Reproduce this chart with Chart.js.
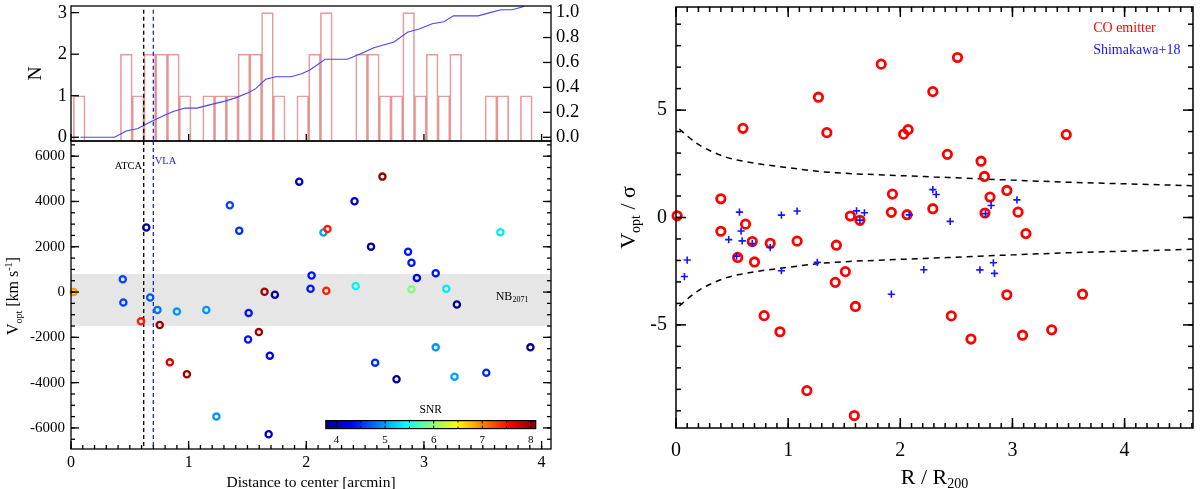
<!DOCTYPE html>
<html><head><meta charset="utf-8">
<script src="https://cdn.jsdelivr.net/npm/chart.js@4"></script>
<style>
html,body{margin:0;padding:0;background:#fff;}
#wrap{position:relative;width:1200px;height:489px;overflow:hidden;background:#fff;}
canvas{position:absolute;left:0;top:0;}
</style></head><body>
<div id="wrap">
<canvas id="c1" width="1200" height="489"></canvas>
<canvas id="c2" width="1200" height="489"></canvas>
<canvas id="c3" width="1200" height="489"></canvas>
</div>
<script>
// ================= DATA =================
// --- top-left histogram (bin centres in arcmin, counts) ---
const histBinCenters = [0.07,0.17,0.27,0.37,0.47,0.57,0.67,0.77,0.87,0.97,1.07,1.17,1.27,1.37,1.47,1.57,1.67,1.77,1.87,1.97,2.07,2.17,2.27,2.37,2.47,2.57,2.67,2.77,2.87,2.97,3.07,3.17,3.27,3.37,3.47,3.57,3.67,3.77,3.87];
const histCounts     = [1,0,0,0,2,1,2,2,2,1,0,1,1,1,2,2,3,1,0,1,2,3,0,0,2,2,1,1,3,1,2,1,2,0,0,1,1,0,1];
// cumulative fraction (right axis)
const cumDist = [0.08,0.37,0.47,0.57,0.62,0.70,0.79,0.875,0.97,1.07,1.22,1.31,1.41,1.51,1.57,1.655,1.74,1.87,1.96,2.03,2.16,2.35,2.47,2.58,2.745,2.86,2.96,3.07,3.17,3.25,3.46,3.56,3.655,3.75,3.85];
const cumFrac = [0,0,0.05,0.07,0.096,0.135,0.174,0.208,0.234,0.234,0.27,0.29,0.32,0.36,0.39,0.465,0.486,0.486,0.51,0.54,0.626,0.626,0.673,0.72,0.764,0.842,0.868,0.91,0.927,0.974,0.974,1.0,1.023,1.023,1.049];

// --- bottom-left scatter: distance [arcmin], V_opt [km/s], SNR ---
const distCenter = [0.023,0.44,0.445,0.64,0.595,0.673,0.735,0.754,0.90,1.15,1.35,1.43,1.51,1.505,1.597,1.645,1.733,1.94,2.045,2.036,2.146,2.18,2.17,2.41,2.42,2.647,2.55,2.865,2.894,2.94,2.894,3.10,3.19,3.28,3.65,1.236,1.68,1.69,0.84,0.985,2.585,2.767,3.10,3.26,3.53,3.905];
const vOpt       = [0,565,-460,2853,-1293,-238,-787,-1456,-862,-787,3833,2704,-921,-2095,-1768,15,-119,4874,728,149,2630,2779,59,4012,267,5097,2006,1783,1293,624,119,832,149,-550,2645,-5500,-6280,-2809,-3103,-3632,-3118,-3853,-2441,-3735,-3559,-2441];
const snrValues  = [6.9,4.6,4.6,3.88,7.45,4.7,4.8,8.0,4.95,4.95,4.6,4.5,4.4,4.4,7.95,7.95,3.88,4.1,4.4,4.4,5.0,7.45,7.45,4.1,5.35,8.0,3.88,4.4,4.4,4.25,5.94,4.4,5.3,3.88,5.3,4.95,4.1,4.25,7.7,8.0,4.5,3.88,4.95,5.0,4.5,3.88];
const nbBand = [-1500, 800];          // NB2071 velocity window
const atcaDist = 0.618, vlaDist = 0.70; // primary beam lines
const snrRange = [3.78, 8.1];
const snrTickLabels = [4,5,6,7,8];

// --- right scatter: R/R200, V_opt/sigma ---
const coR = [0.01,0.40,0.40,0.597,0.62,0.68,0.84,1.08,1.27,1.345,1.43,1.555,1.64,1.83,1.93,1.92,2.03,2.07,2.06,2.29,2.29,2.42,2.51,2.72,2.75,2.755,2.80,2.95,3.05,3.12,3.48,0.55,0.70,1.51,1.42,1.60,0.786,0.927,1.167,1.59,2.455,2.63,2.95,3.09,3.35,3.625];
const coV = [0.08,0.87,-0.64,4.15,-0.31,-1.12,-1.20,-1.10,5.6,3.95,-1.29,0.07,-0.13,7.14,1.09,0.24,3.88,4.09,0.13,5.86,0.41,2.94,7.45,2.62,1.91,0.21,0.95,1.26,0.25,-0.75,3.86,-1.86,-2.07,-2.52,-3.02,-4.14,-4.57,-5.32,-8.06,-9.22,-4.58,-5.66,-3.60,-5.48,-5.23,-3.57];
const shiR = [0.075,0.10,0.47,0.54,0.566,0.58,0.59,0.68,0.84,0.94,0.94,1.08,1.26,1.61,1.64,1.68,1.92,2.08,2.21,2.29,2.32,2.445,2.71,2.76,2.81,2.83,2.84,3.04];
const shiV = [-2.75,-1.98,-1.03,-1.80,0.25,-0.63,-1.09,-1.21,-1.40,0.11,-2.48,0.30,-2.09,0.31,-0.12,0.22,-3.57,0.12,-2.43,1.30,1.07,-0.18,-2.44,0.18,0.56,-2.11,-2.60,0.82];
const envR     = [0.03,0.1,0.2,0.3,0.45,0.6,0.8,1.0,1.26,1.5,2.0,2.3,2.7,3.0,3.5,4.0,4.6];
const envUpper = [4.12,3.8,3.4,3.12,2.8,2.62,2.45,2.32,2.15,2.06,1.95,1.89,1.80,1.74,1.64,1.57,1.48];
const envLower = [-4.12,-3.8,-3.4,-3.12,-2.8,-2.62,-2.45,-2.32,-2.15,-2.06,-1.95,-1.89,-1.80,-1.74,-1.64,-1.57,-1.48];

// tick labels
const histNTicks = [0,1,2,3];
const histFracTicks = [0,0.2,0.4,0.6,0.8,1.0];
const distTicks = [0,1,2,3,4];
const vOptTicks = [-6000,-4000,-2000,0,2000,4000,6000];
const rTicks = [0,1,2,3,4];
const sigmaTicks = [-5,0,5];

// ================= HELPERS =================
const FONT = '"Liberation Serif","Times New Roman",serif';
Chart.defaults.font.family = FONT;
Chart.defaults.color = '#000';

function clamp01(v){return Math.max(0,Math.min(1,v));}
function jet(t){
  t = clamp01(t);
  const r = clamp01(Math.min(4*t-1.5, -4*t+4.5));
  const g = clamp01(Math.min(4*t-0.5, -4*t+3.5));
  const b = clamp01(Math.min(4*t+0.5, -4*t+2.5));
  return `rgb(${Math.round(r*255)},${Math.round(g*255)},${Math.round(b*255)})`;
}
function snrColor(s){ return jet((s-snrRange[0])/(snrRange[1]-snrRange[0])); }
function seq(a,b,step){ const out=[]; for(let v=a; v<=b+1e-9; v+=step) out.push(Math.round(v*1000)/1000); return out; }

function drawRich(ctx, parts, x, y, o){
  o = o||{};
  ctx.save();
  ctx.translate(x,y);
  if (o.rot) ctx.rotate(o.rot);
  ctx.textBaseline = o.baseline || 'alphabetic';
  let w = 0;
  parts.forEach(p=>{ ctx.font = `${p.size}px ${FONT}`; p.w = ctx.measureText(p.t).width; w += p.w; });
  let cx = o.align==='center' ? -w/2 : (o.align==='right' ? -w : 0);
  parts.forEach(p=>{ ctx.font = `${p.size}px ${FONT}`; ctx.fillStyle = p.color || o.color || '#000'; ctx.fillText(p.t, cx, p.dy||0); cx += p.w; });
  ctx.restore();
}

// frame + inward ticks plugin
const frameTicks = {
  id:'frameTicks',
  afterDatasetsDraw(chart, args, o){
    const ctx = chart.ctx, a = chart.chartArea;
    ctx.save();
    ctx.strokeStyle = '#000';
    ctx.lineWidth = o.lw || 1.3;
    ctx.strokeRect(a.left, a.top, a.right-a.left, a.bottom-a.top);
    (o.axes||[]).forEach(ax=>{
      const sc = chart.scales[ax.scale];
      ax.values.forEach(v=>{
        const p = sc.getPixelForValue(v);
        ctx.beginPath();
        if (ax.side==='bottom'){ ctx.moveTo(p,a.bottom); ctx.lineTo(p,a.bottom-ax.len); }
        else if (ax.side==='top'){ ctx.moveTo(p,a.top); ctx.lineTo(p,a.top+ax.len); }
        else if (ax.side==='left'){ ctx.moveTo(a.left,p); ctx.lineTo(a.left+ax.len,p); }
        else { ctx.moveTo(a.right,p); ctx.lineTo(a.right-ax.len,p); }
        ctx.stroke();
      });
    });
    ctx.restore();
  }
};

function yAxis(o){
  return {
    type:'linear', position:o.pos||'left', min:o.min, max:o.max,
    grid:{display:false, drawTicks:false, tickLength:0}, border:{display:false},
    ticks:{font:{family:FONT,size:o.size}, color:'#000', padding:o.pad, autoSkip:false,
      callback:o.cb || (v=>String(v))},
    afterBuildTicks: s=>{ s.ticks = o.ticks.map(v=>({value:v})); },
    afterFit: s=>{ s.width = o.w; s.paddingTop = 0; s.paddingBottom = 0; }
  };
}
function xAxis(o){
  return {
    type:'linear', position:'bottom', min:o.min, max:o.max, offset:false, display:o.display!==false,
    grid:{display:false, drawTicks:false, tickLength:0, offset:false}, border:{display:false},
    ticks:{font:{family:FONT,size:o.size||12}, color:'#000', padding:o.pad||0, autoSkip:false, maxRotation:0,
      callback:v=>String(v)},
    afterBuildTicks: s=>{ s.ticks = (o.ticks||[]).map(v=>({value:v})); },
    afterFit: s=>{ s.height = o.h||0; s.paddingLeft = 0; s.paddingRight = 0; }
  };
}
const baseOpts = {responsive:false, animation:false, events:[], plugins:{legend:{display:false}, tooltip:{enabled:false}}};

// ================= CHART 1: histogram =================
const HMIN = -0.09, HMAX = 3.16;
new Chart(document.getElementById('c1'), {
  type:'bar',
  data:{datasets:[
    {type:'line', data:[{x:atcaDist,y:3.07},{x:atcaDist,y:HMIN}], yAxisID:'y', borderColor:'#000', borderWidth:1.3, borderDash:[4,3], pointRadius:0, order:0},
    {type:'line', data:[{x:vlaDist,y:3.07},{x:vlaDist,y:HMIN}], yAxisID:'y', borderColor:'#2020ff', borderWidth:1.3, borderDash:[4,3], pointRadius:0, order:0},
    {type:'line', data:cumDist.map((x,i)=>({x, y:cumFrac[i]})), yAxisID:'y2', borderColor:'#4646ff', borderWidth:1.1, pointRadius:0, tension:0, order:1},
    {type:'bar', data:histBinCenters.map((x,i)=>({x, y: histCounts[i]>0 ? histCounts[i] : null})), yAxisID:'y',
      base:HMIN, backgroundColor:'rgba(0,0,0,0)', borderColor:'rgba(215,90,90,0.6)', borderWidth:1,
      barPercentage:1, categoryPercentage:1, grouped:false, order:2}
  ]},
  options:{...baseOpts,
    layout:{padding:{left:0, top:6, right:600, bottom:348}},
    scales:{
      x: xAxis({min:0, max:4.08, display:false}),
      y: yAxis({min:HMIN, max:HMAX, ticks:histNTicks, size:18.5, pad:4, w:71}),
      y2: yAxis({pos:'right', min:-0.03, max:1.053, ticks:histFracTicks, size:18.5, pad:5, w:49, cb:v=>v.toFixed(1)})
    },
    plugins:{...baseOpts.plugins,
      frameTicks:{lw:1.3, axes:[
        {scale:'x', side:'bottom', values:distTicks, len:7},
        {scale:'y', side:'left', values:histNTicks, len:8},
        {scale:'y2', side:'right', values:histFracTicks, len:8}
      ]}
    }
  },
  plugins:[frameTicks, {
    id:'histText',
    afterDraw(chart){
      const ctx = chart.ctx, a = chart.chartArea;
      drawRich(ctx, [{t:'N', size:19.5}], 36, (a.top+a.bottom)/2, {rot:-Math.PI/2, align:'center', baseline:'middle'});
    }
  }]
});

// ================= CHART 2: V_opt vs distance =================
const cbBox = {x0:2.166, x1:3.95, yTop:-5676, yBot:-6029, labelY:-6530, titleY:-5191};
new Chart(document.getElementById('c2'), {
  type:'scatter',
  data:{datasets:[
    {data:distCenter.map((x,i)=>({x, y:vOpt[i]})), pointStyle:'circle', pointRadius:3.1, pointBorderWidth:2.3,
      pointBackgroundColor:'rgba(0,0,0,0)', pointBorderColor:snrValues.map(snrColor), clip:false, order:0},
    {data:[{x:atcaDist,y:6670},{x:atcaDist,y:-6930}], showLine:true, borderColor:'#000', borderWidth:1.3, borderDash:[4,3], pointRadius:0, order:1},
    {data:[{x:vlaDist,y:6670},{x:vlaDist,y:-6930}], showLine:true, borderColor:'#2020ff', borderWidth:1.3, borderDash:[4,3], pointRadius:0, order:1}
  ]},
  options:{...baseOpts,
    layout:{padding:{left:0, top:141, right:649, bottom:0}},
    scales:{
      x: xAxis({min:0, max:4.08, ticks:distTicks, size:16, pad:4, h:40}),
      y: yAxis({min:-6930, max:6670, ticks:vOptTicks, size:15, pad:6, w:71})
    },
    plugins:{...baseOpts.plugins,
      frameTicks:{lw:1.3, axes:[
        {scale:'x', side:'bottom', values:seq(0,4,0.1), len:4},
        {scale:'x', side:'bottom', values:distTicks, len:8},
        {scale:'y', side:'left', values:seq(-6500,6500,500), len:4},
        {scale:'y', side:'left', values:vOptTicks, len:8},
        {scale:'y', side:'right', values:seq(-6500,6500,500), len:4},
        {scale:'y', side:'right', values:vOptTicks, len:8}
      ]}
    }
  },
  plugins:[{
    id:'band',
    beforeDatasetsDraw(chart){
      const ctx = chart.ctx, a = chart.chartArea, y = chart.scales.y;
      const t = y.getPixelForValue(nbBand[1]), b = y.getPixelForValue(nbBand[0]);
      ctx.save(); ctx.fillStyle = '#e6e6e6'; ctx.fillRect(a.left, t, a.right-a.left, b-t); ctx.restore();
    }
  }, frameTicks, {
    id:'annot',
    afterDraw(chart){
      const ctx = chart.ctx, a = chart.chartArea, x = chart.scales.x, y = chart.scales.y;
      // labels of lines
      drawRich(ctx, [{t:'ATCA', size:10.5}], x.getPixelForValue(0.605), y.getPixelForValue(5540), {align:'right', baseline:'middle'});
      drawRich(ctx, [{t:'VLA', size:10.5, color:'#2020ff'}], x.getPixelForValue(0.712), y.getPixelForValue(5760), {align:'left', baseline:'middle'});
      drawRich(ctx, [{t:'NB', size:12},{t:'2071', size:8, dy:3}], x.getPixelForValue(3.61), y.getPixelForValue(-220), {align:'left', baseline:'middle'});
      // colour bar
      const cx0 = x.getPixelForValue(cbBox.x0), cx1 = x.getPixelForValue(cbBox.x1);
      const cy0 = y.getPixelForValue(cbBox.yTop), cy1 = y.getPixelForValue(cbBox.yBot);
      const g = ctx.createLinearGradient(cx0,0,cx1,0);
      for (let i=0;i<=40;i++) g.addColorStop(i/40, jet(i/40));
      ctx.save();
      ctx.fillStyle = g; ctx.fillRect(cx0, cy0, cx1-cx0, cy1-cy0);
      ctx.strokeStyle = '#000'; ctx.lineWidth = 1.2; ctx.strokeRect(cx0, cy0, cx1-cx0, cy1-cy0);
      const sx = s => cx0 + (s-snrRange[0])/(snrRange[1]-snrRange[0])*(cx1-cx0);
      ctx.lineWidth = 1;
      seq(4,8,0.5).forEach(s=>{
        const p = sx(s), L = Number.isInteger(s) ? 3 : 2;
        ctx.beginPath(); ctx.moveTo(p,cy1); ctx.lineTo(p,cy1-L); ctx.moveTo(p,cy0); ctx.lineTo(p,cy0+L); ctx.stroke();
      });
      ctx.restore();
      snrTickLabels.forEach(s=>drawRich(ctx, [{t:String(s), size:11}], sx(s), y.getPixelForValue(cbBox.labelY), {align:'center', baseline:'middle'}));
      drawRich(ctx, [{t:'SNR', size:11.5}], (cx0+cx1)/2, y.getPixelForValue(cbBox.titleY), {align:'center', baseline:'middle'});
      // axis titles
      drawRich(ctx, [{t:'Distance to center [arcmin]', size:15.5}], (a.left+a.right)/2, 487, {align:'center'});
      drawRich(ctx, [{t:'V', size:16},{t:'opt', size:10, dy:4},{t:' [km s', size:16},{t:'-1', size:10, dy:-6},{t:']', size:16}],
        18, y.getPixelForValue(0)+4, {rot:-Math.PI/2, align:'center'});
    }
  }]
});

// ================= CHART 3: V/sigma vs R/R200 =================
new Chart(document.getElementById('c3'), {
  type:'scatter',
  data:{datasets:[
    {data:shiR.map((x,i)=>({x, y:shiV[i]})), pointStyle:'cross', pointRadius:3.6, pointBorderWidth:1.6,
      pointBorderColor:'#1414ff', pointBackgroundColor:'#1414ff', clip:false, order:0},
    {data:coR.map((x,i)=>({x, y:coV[i]})), pointStyle:'circle', pointRadius:4.2, pointBorderWidth:2.8,
      pointBorderColor:'#ff0000', pointBackgroundColor:'rgba(0,0,0,0)', clip:false, order:1},
    {data:envR.map((x,i)=>({x, y:envUpper[i]})), showLine:true, borderColor:'#000', borderWidth:1.5, borderDash:[6,5], pointRadius:0, cubicInterpolationMode:'monotone', order:2},
    {data:envR.map((x,i)=>({x, y:envLower[i]})), showLine:true, borderColor:'#000', borderWidth:1.5, borderDash:[6,5], pointRadius:0, cubicInterpolationMode:'monotone', order:2}
  ]},
  options:{...baseOpts,
    layout:{padding:{left:600, top:3, right:3, bottom:0}},
    scales:{
      x: xAxis({min:0, max:4.61, ticks:rTicks, size:20, pad:11, h:61}),
      y: yAxis({min:-9.8, max:9.8, ticks:sigmaTicks, size:20, pad:9, w:76})
    },
    plugins:{...baseOpts.plugins,
      frameTicks:{lw:1.5, axes:[
        {scale:'x', side:'bottom', values:seq(0,4.6,0.1), len:5},
        {scale:'x', side:'bottom', values:rTicks, len:10},
        {scale:'x', side:'top', values:seq(0,4.6,0.1), len:5},
        {scale:'x', side:'top', values:rTicks, len:10},
        {scale:'y', side:'left', values:seq(-9,9,1), len:5},
        {scale:'y', side:'left', values:sigmaTicks, len:10},
        {scale:'y', side:'right', values:seq(-9,9,1), len:5},
        {scale:'y', side:'right', values:sigmaTicks, len:10}
      ]}
    }
  },
  plugins:[frameTicks, {
    id:'rightText',
    afterDraw(chart){
      const ctx = chart.ctx, a = chart.chartArea, x = chart.scales.x, y = chart.scales.y;
      drawRich(ctx, [{t:'CO emitter', size:14, color:'#ff0000'}], x.getPixelForValue(3.72), y.getPixelForValue(8.8), {align:'left', baseline:'middle'});
      drawRich(ctx, [{t:'Shimakawa+18', size:14, color:'#1414ff'}], x.getPixelForValue(3.72), y.getPixelForValue(7.8), {align:'left', baseline:'middle'});
      drawRich(ctx, [{t:'R / R', size:22},{t:'200', size:14, dy:4}], (a.left+a.right)/2, 484, {align:'center'});
      drawRich(ctx, [{t:'V', size:22},{t:'opt', size:14, dy:5},{t:' / \u03c3', size:22}], 635, (a.top+a.bottom)/2, {rot:-Math.PI/2, align:'center'});
    }
  }]
});
</script>
</body></html>
